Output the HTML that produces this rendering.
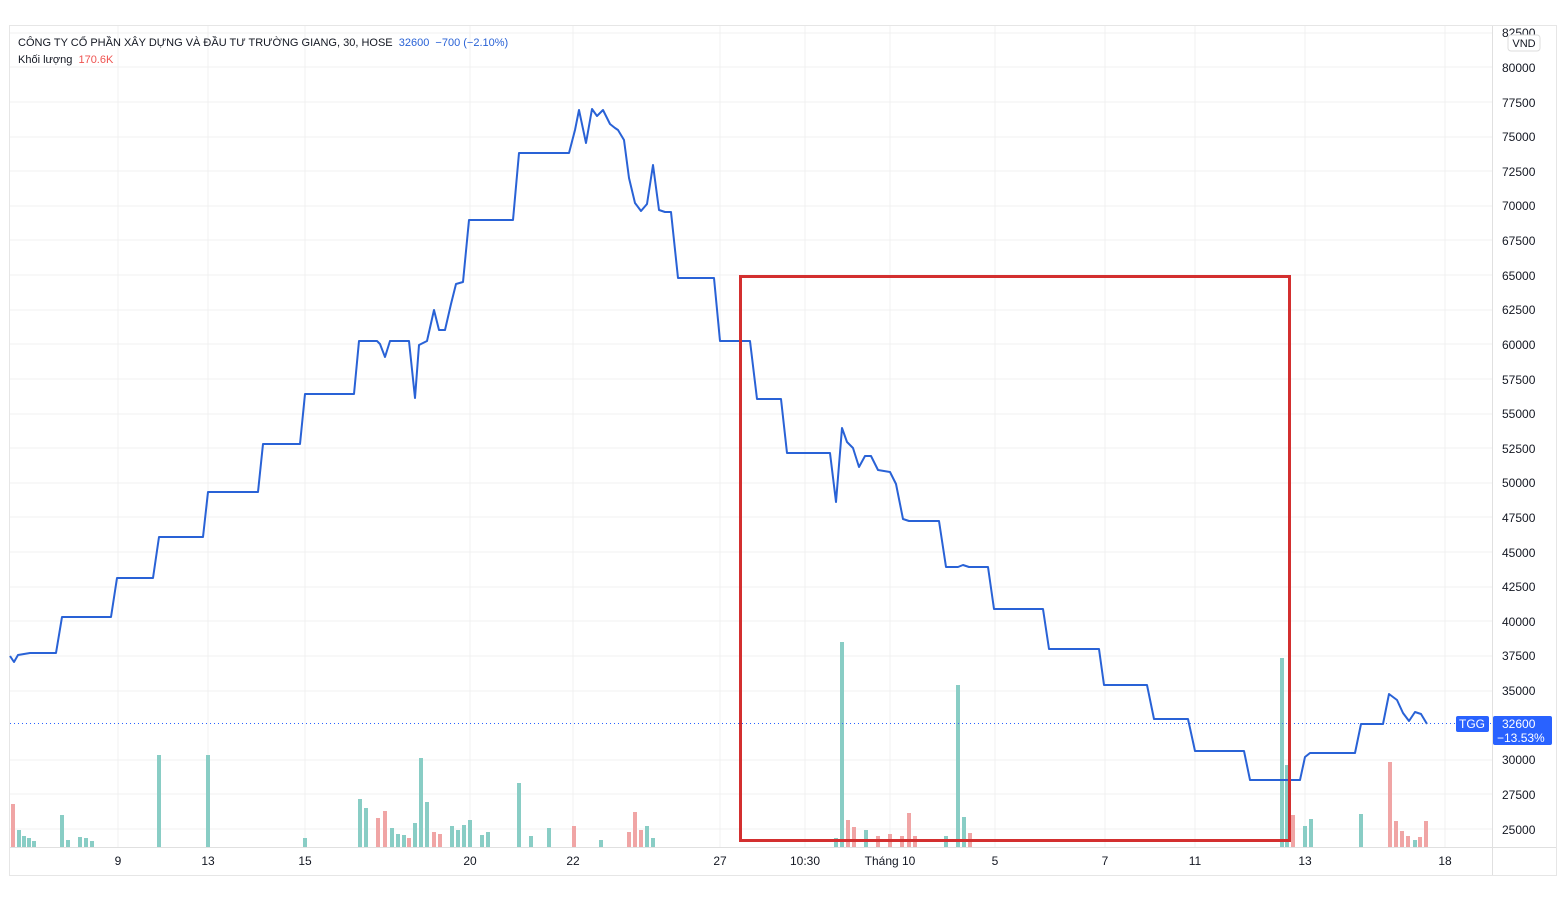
<!DOCTYPE html>
<html><head><meta charset="utf-8"><style>
body{margin:0;background:#fff;width:1566px;height:910px;overflow:hidden;font-family:"Liberation Sans","Noto Sans CJK SC",sans-serif}
svg text{font-family:"Liberation Sans","Noto Sans CJK SC",sans-serif}
</style></head><body>
<svg width="1566" height="910" viewBox="0 0 1566 910" xmlns="http://www.w3.org/2000/svg">
<rect x="9.5" y="25.5" width="1547" height="850" fill="#fff" stroke="#e6e6e6"/>
<g stroke="#f0f0f0" stroke-width="1">
<line x1="10" x2="1492" y1="33" y2="33"/><line x1="10" x2="1492" y1="67" y2="67"/><line x1="10" x2="1492" y1="102" y2="102"/><line x1="10" x2="1492" y1="137" y2="137"/><line x1="10" x2="1492" y1="171" y2="171"/><line x1="10" x2="1492" y1="206" y2="206"/><line x1="10" x2="1492" y1="240" y2="240"/><line x1="10" x2="1492" y1="275" y2="275"/><line x1="10" x2="1492" y1="310" y2="310"/><line x1="10" x2="1492" y1="344" y2="344"/><line x1="10" x2="1492" y1="379" y2="379"/><line x1="10" x2="1492" y1="414" y2="414"/><line x1="10" x2="1492" y1="448" y2="448"/><line x1="10" x2="1492" y1="483" y2="483"/><line x1="10" x2="1492" y1="517" y2="517"/><line x1="10" x2="1492" y1="552" y2="552"/><line x1="10" x2="1492" y1="587" y2="587"/><line x1="10" x2="1492" y1="621" y2="621"/><line x1="10" x2="1492" y1="656" y2="656"/><line x1="10" x2="1492" y1="691" y2="691"/><line x1="10" x2="1492" y1="760" y2="760"/><line x1="10" x2="1492" y1="794" y2="794"/><line x1="10" x2="1492" y1="829" y2="829"/>
<line x1="118" x2="118" y1="26" y2="847"/><line x1="208" x2="208" y1="26" y2="847"/><line x1="305" x2="305" y1="26" y2="847"/><line x1="470" x2="470" y1="26" y2="847"/><line x1="573" x2="573" y1="26" y2="847"/><line x1="720" x2="720" y1="26" y2="847"/><line x1="805" x2="805" y1="26" y2="847"/><line x1="890" x2="890" y1="26" y2="847"/><line x1="995" x2="995" y1="26" y2="847"/><line x1="1105" x2="1105" y1="26" y2="847"/><line x1="1195" x2="1195" y1="26" y2="847"/><line x1="1305" x2="1305" y1="26" y2="847"/><line x1="1445" x2="1445" y1="26" y2="847"/>
</g>
<line x1="1492.5" x2="1492.5" y1="26" y2="875" stroke="#e0e0e0"/>
<line x1="10" x2="1556" y1="847.5" y2="847.5" stroke="#e0e0e0"/>
<g fill="#89cdc5">
<rect x="17" y="830" width="4" height="17"/><rect x="22" y="836" width="4" height="11"/><rect x="27" y="838" width="4" height="9"/><rect x="32" y="841" width="4" height="6"/><rect x="60" y="815" width="4" height="32"/><rect x="66" y="840" width="4" height="7"/><rect x="78" y="837" width="4" height="10"/><rect x="84" y="838" width="4" height="9"/><rect x="90" y="841" width="4" height="6"/><rect x="157" y="755" width="4" height="92"/><rect x="206" y="755" width="4" height="92"/><rect x="303" y="838" width="4" height="9"/><rect x="358" y="799" width="4" height="48"/><rect x="364" y="808" width="4" height="39"/><rect x="390" y="828" width="4" height="19"/><rect x="396" y="834" width="4" height="13"/><rect x="402" y="835" width="4" height="12"/><rect x="413" y="823" width="4" height="24"/><rect x="419" y="758" width="4" height="89"/><rect x="425" y="802" width="4" height="45"/><rect x="450" y="826" width="4" height="21"/><rect x="456" y="830" width="4" height="17"/><rect x="462" y="825" width="4" height="22"/><rect x="468" y="820" width="4" height="27"/><rect x="480" y="835" width="4" height="12"/><rect x="486" y="832" width="4" height="15"/><rect x="517" y="783" width="4" height="64"/><rect x="529" y="836" width="4" height="11"/><rect x="547" y="828" width="4" height="19"/><rect x="599" y="840" width="4" height="7"/><rect x="645" y="826" width="4" height="21"/><rect x="651" y="838" width="4" height="9"/><rect x="834" y="838" width="4" height="9"/><rect x="840" y="642" width="4" height="205"/><rect x="864" y="830" width="4" height="17"/><rect x="944" y="836" width="4" height="11"/><rect x="956" y="685" width="4" height="162"/><rect x="962" y="817" width="4" height="30"/><rect x="1280" y="658" width="4" height="189"/><rect x="1285" y="765" width="4" height="82"/><rect x="1303" y="826" width="4" height="21"/><rect x="1309" y="819" width="4" height="28"/><rect x="1359" y="814" width="4" height="33"/><rect x="1413" y="840" width="4" height="7"/>
</g>
<g fill="#f0a5a5">
<rect x="11" y="804" width="4" height="43"/><rect x="376" y="818" width="4" height="29"/><rect x="383" y="811" width="4" height="36"/><rect x="407" y="838" width="4" height="9"/><rect x="432" y="832" width="4" height="15"/><rect x="438" y="834" width="4" height="13"/><rect x="572" y="826" width="4" height="21"/><rect x="627" y="832" width="4" height="15"/><rect x="633" y="812" width="4" height="35"/><rect x="639" y="830" width="4" height="17"/><rect x="846" y="820" width="4" height="27"/><rect x="852" y="827" width="4" height="20"/><rect x="876" y="836" width="4" height="11"/><rect x="888" y="834" width="4" height="13"/><rect x="900" y="836" width="4" height="11"/><rect x="907" y="813" width="4" height="34"/><rect x="913" y="836" width="4" height="11"/><rect x="968" y="833" width="4" height="14"/><rect x="1291" y="815" width="4" height="32"/><rect x="1388" y="762" width="4" height="85"/><rect x="1394" y="821" width="4" height="26"/><rect x="1400" y="831" width="4" height="16"/><rect x="1406" y="836" width="4" height="11"/><rect x="1418" y="837" width="4" height="10"/><rect x="1424" y="821" width="4" height="26"/>
</g>
<line x1="10" x2="1492" y1="723.5" y2="723.5" stroke="#2962ff" stroke-dasharray="1,3"/>
<polyline fill="none" stroke="#2962d6" stroke-width="2" stroke-linejoin="round" points="10,656 14,662 18,655 30,653 56,653 62,617 111,617 117,578 153,578 159,537 203,537 208,492 258,492 263,444 300,444 305,394 354,394 359,341 377,341 380,344 385,357 390,341 409,341 415,398 419,345 427,341 434,310 439,330 445,330 451,304 456,284 463,282 469,220 513,220 519,153 569,153 575,130 579,110 586,143 592,109 597,116 603,110 610,124 615,128 618,130 624,140 629,178 635,203 641,211 647,204 653,165 659,210 665,212 671,212 678,278 714,278 720,341 750,341 757,399 781,399 787,453 830,453 836,502 842,428 847,442 853,448 859,467 865,456 871,456 878,470 890,472 896,484 903,519 909,521 939,521 946,567 958,567 963,565 969,567 988,567 994,609 1043,609 1049,649 1099,649 1104,685 1147,685 1154,719 1188,719 1195,751 1244,751 1250,780 1290,780 1300,780 1305,757 1310,753 1355,753 1361,724 1383,724 1389,694 1397,700 1403,713 1409,721 1415,712 1421,714 1427,724"/>
<rect x="740.5" y="276.5" width="549" height="564" fill="none" stroke="#d32f2f" stroke-width="3"/>
<g font-size="12" fill="#131722">
<text x="1502" y="37">82500</text><text x="1502" y="72">80000</text><text x="1502" y="107">77500</text><text x="1502" y="141">75000</text><text x="1502" y="176">72500</text><text x="1502" y="210">70000</text><text x="1502" y="245">67500</text><text x="1502" y="280">65000</text><text x="1502" y="314">62500</text><text x="1502" y="349">60000</text><text x="1502" y="384">57500</text><text x="1502" y="418">55000</text><text x="1502" y="453">52500</text><text x="1502" y="487">50000</text><text x="1502" y="522">47500</text><text x="1502" y="557">45000</text><text x="1502" y="591">42500</text><text x="1502" y="626">40000</text><text x="1502" y="660">37500</text><text x="1502" y="695">35000</text><text x="1502" y="764">30000</text><text x="1502" y="799">27500</text><text x="1502" y="834">25000</text>
<g text-anchor="middle"><text x="118" y="865">9</text><text x="208" y="865">13</text><text x="305" y="865">15</text><text x="470" y="865">20</text><text x="573" y="865">22</text><text x="720" y="865">27</text><text x="805" y="865">10:30</text><text x="890" y="865">Tháng 10</text><text x="995" y="865">5</text><text x="1105" y="865">7</text><text x="1195" y="865">11</text><text x="1305" y="865">13</text><text x="1445" y="865">18</text></g>
</g>
<rect x="1508" y="35" width="32" height="16" rx="3" fill="#fff" stroke="#ddd"/>
<text x="1524" y="47" font-size="11" text-anchor="middle" fill="#131722">VND</text>
<rect x="1456" y="716" width="33" height="16" rx="2" fill="#2962ff"/>
<text x="1472" y="728" font-size="12" text-anchor="middle" fill="#fff">TGG</text>
<rect x="1493" y="716" width="59" height="29" rx="2" fill="#2962ff"/>
<text x="1502" y="728" font-size="12" fill="#fff">32600</text>
<text x="1497" y="742" font-size="12" fill="#fff">−13.53%</text>
<text x="18" y="46" font-size="11" fill="#131722" xml:space="preserve">CÔNG TY CỔ PHẦN XÂY DỰNG VÀ ĐẦU TƯ TRƯỜNG GIANG, 30, HOSE  <tspan fill="#2962d6">32600  −700 (−2.10%)</tspan></text>
<text x="18" y="63" font-size="11" fill="#131722" xml:space="preserve">Khối lượng  <tspan fill="#ef5350">170.6K</tspan></text>
</svg>
</body></html>
